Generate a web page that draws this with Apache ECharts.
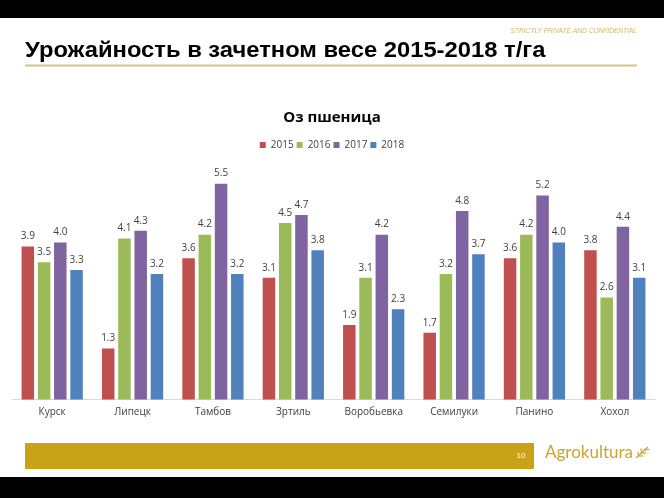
<!DOCTYPE html>
<html><head><meta charset="utf-8">
<script src="https://cdn.jsdelivr.net/npm/echarts@6/dist/echarts.min.js"></script>
<style>html,body{margin:0;padding:0;background:#fff}#c{width:664px;height:498px}</style>
</head><body><div id="c"></div>
<script>
var categories = ['Курск','Липецк','Тамбов','Зртиль','Воробьевка','Семилуки','Панино','Хохол'];
var seriesNames = ['2015','2016','2017','2018'];
var v2015 = [3.9,1.3,3.6,3.1,1.9,1.7,3.6,3.8];
var v2016 = [3.5,4.1,4.2,4.5,3.1,3.2,4.2,2.6];
var v2017 = [4.0,4.3,5.5,4.7,4.2,4.8,5.2,4.4];
var v2018 = [3.3,3.2,3.2,3.8,2.3,3.7,4.0,3.1];
var colors = ['#C0504D','#9BBB59','#8064A2','#4F81BD'];
var values = [v2015,v2016,v2017,v2018];

var chart = echarts.init(document.getElementById('c'), null, {renderer:'canvas'});
var series = seriesNames.map(function(n,i){
  return {
    name:n, type:'bar', data:values[i], barWidth:12.5, barGap:'30%',
    itemStyle:{color:colors[i]},
    label:{show:true, position:'top', distance:5, color:'#404040', fontSize:10,
      fontFamily:'Open Sans', formatter:function(p){return p.value.toFixed(1);}}
  };
});
var gold = '#C9A52E';
function seg(a,b){return {type:'polyline', shape:{points:[a,b]}, style:{stroke:gold, lineWidth:1.2, fill:null}, silent:true};}
chart.setOption({
  animation:false,
  color:colors,
  title:{text:'Оз пшеница', left:'center', top:105,
    textStyle:{fontSize:15, fontWeight:'bold', color:'#000', fontFamily:'Open Sans'}},
  legend:{data:seriesNames, top:135, left:'center', itemWidth:6, itemHeight:6, itemGap:3,
    icon:'rect', textStyle:{fontSize:10, color:'#404040', fontFamily:'Open Sans'}},
  grid:{left:12, right:9, top:164, bottom:98.5, containLabel:false},
  xAxis:{type:'category', data:categories,
    axisLine:{lineStyle:{color:'#D9D9D9', width:1}}, axisTick:{show:false},
    axisLabel:{color:'#404040', fontSize:10, fontFamily:'Open Sans', margin:8}},
  yAxis:{type:'value', min:0, max:6, show:false, splitLine:{show:false}},
  series:series,
  graphic:[
    {type:'rect', shape:{x:0,y:0,width:664,height:18}, style:{fill:'#000'}, silent:true},
    {type:'rect', shape:{x:0,y:477,width:664,height:21}, style:{fill:'#000'}, silent:true},
    {type:'text', x:637, y:31, style:{text:'STRICTLY PRIVATE AND CONFIDENTIAL', align:'right',
      verticalAlign:'middle', fill:'#CDB86A', font:'italic 6.6px "Liberation Sans"'}},
    {type:'text', x:25, y:51, scaleX:1.08, style:{text:'Урожайность в зачетном весе 2015-2018 т/га',
      verticalAlign:'middle', fill:'#000', font:'bold 22px "Liberation Sans"'}},
    {type:'rect', shape:{x:25,y:64.5,width:612,height:2}, style:{fill:'#D8C47E'}},
    {type:'rect', shape:{x:25,y:443,width:509,height:26}, style:{fill:'#C9A218'}},
    {type:'text', x:521, y:456, style:{text:'10', align:'center', verticalAlign:'middle',
      fill:'#fff', font:'8px "Liberation Sans"'}},
    {type:'text', x:545, y:453, style:{text:'Agrokultura', verticalAlign:'middle',
      fill:gold, font:'17px "Lato"'}},
    seg([636,458],[648,447]),
    seg([638.5,456],[638,451.5]),
    seg([641.5,453],[641,448.5]),
    seg([638.5,456],[643.5,456]),
    seg([641.5,453],[646.5,453]),
    seg([644.5,450],[649.5,449.5])
  ]
});
</script></body></html>
